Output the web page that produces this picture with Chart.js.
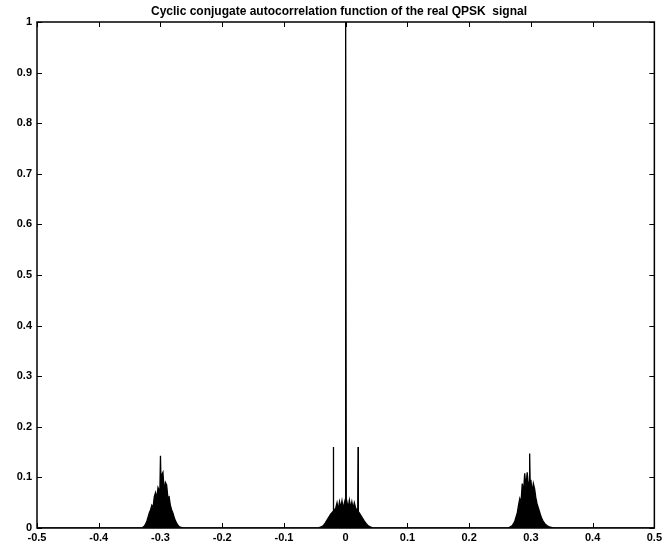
<!DOCTYPE html>
<html>
<head>
<meta charset="utf-8">
<script src="https://cdn.jsdelivr.net/npm/chart.js@4.4.1/dist/chart.umd.min.js"></script>
<style>
    html, body { margin: 0; padding: 0; background: #ffffff; }
    #wrap { width: 665px; height: 554px; }
</style>
</head>
<body>
<div id="wrap"><canvas id="cyclicChart"></canvas></div>
<script>
// cycle frequency (alpha) and normalised magnitude around each feature
var leftFreq = [-0.330, -0.328, -0.326, -0.324, -0.322, -0.320, -0.318, -0.316, -0.314, -0.312, -0.310, -0.308, -0.306, -0.304, -0.302, -0.301, -0.300, -0.299, -0.298, -0.296, -0.294, -0.292, -0.290, -0.288, -0.286, -0.284, -0.282, -0.280, -0.278, -0.276, -0.274, -0.272, -0.270, -0.266, -0.262];
var leftAmp = [0, 0.002, 0.004, 0.008, 0.014, 0.022, 0.030, 0.036, 0.045, 0.040, 0.062, 0.070, 0.058, 0.080, 0.074, 0.070, 0.143, 0.080, 0.105, 0.110, 0.072, 0.090, 0.085, 0.060, 0.062, 0.045, 0.036, 0.030, 0.022, 0.015, 0.010, 0.006, 0.003, 0.001, 0];

var centerFreq = [-0.045, -0.040, -0.036, -0.033, -0.030, -0.027, -0.024, -0.021, -0.0205, -0.020, -0.0195, -0.018, -0.016, -0.014, -0.012, -0.010, -0.008, -0.006, -0.004, -0.002, -0.001, 0, 0.001, 0.002, 0.004, 0.006, 0.008, 0.010, 0.012, 0.014, 0.016, 0.018, 0.0195, 0.020, 0.0205, 0.022, 0.024, 0.027, 0.030, 0.033, 0.036, 0.040, 0.045];
var centerAmp = [0, 0.002, 0.005, 0.010, 0.016, 0.022, 0.028, 0.032, 0.030, 0.160, 0.030, 0.036, 0.040, 0.050, 0.036, 0.052, 0.040, 0.054, 0.038, 0.050, 0.035, 1.0, 0.035, 0.052, 0.040, 0.055, 0.040, 0.052, 0.038, 0.050, 0.040, 0.036, 0.032, 0.160, 0.032, 0.030, 0.026, 0.020, 0.014, 0.009, 0.005, 0.002, 0];

var rightFreq = [0.262, 0.266, 0.270, 0.272, 0.274, 0.276, 0.278, 0.280, 0.282, 0.284, 0.286, 0.288, 0.290, 0.292, 0.294, 0.296, 0.297, 0.298, 0.299, 0.300, 0.302, 0.304, 0.306, 0.308, 0.310, 0.312, 0.314, 0.316, 0.318, 0.320, 0.323, 0.326, 0.330, 0.336];
var rightAmp = [0, 0.002, 0.005, 0.009, 0.014, 0.022, 0.030, 0.045, 0.058, 0.050, 0.088, 0.070, 0.108, 0.080, 0.110, 0.085, 0.090, 0.147, 0.080, 0.095, 0.070, 0.088, 0.078, 0.060, 0.048, 0.040, 0.032, 0.024, 0.018, 0.013, 0.008, 0.005, 0.002, 0];

var xTicks = [-0.5, -0.4, -0.3, -0.2, -0.1, 0, 0.1, 0.2, 0.3, 0.4, 0.5];
var yTicks = [0, 0.1, 0.2, 0.3, 0.4, 0.5, 0.6, 0.7, 0.8, 0.9, 1];

var titleText = 'Cyclic conjugate autocorrelation function of the real QPSK  signal';

// stitch the three features together along a zero baseline
var points = [{ x: -0.5, y: 0 }];
[[leftFreq, leftAmp], [centerFreq, centerAmp], [rightFreq, rightAmp]].forEach(pair => {
    pair[0].forEach((f, i) => points.push({ x: f, y: pair[1][i] }));
});
points.push({ x: 0.5, y: 0 });

function tickText(v) {
    var s = Math.abs(v) < 1e-9 ? '0' : (Math.abs(v - 1) < 1e-9 ? '1' : v.toFixed(1));
    return s;
}

// matlab style box with inward ticks on all four sides, plus the title
const boxPlugin = {
    id: 'boxPlugin',
    afterDraw(chart) {
        const ctx = chart.ctx;
        const a = chart.chartArea;
        const xs = chart.scales.x;
        const ys = chart.scales.y;
        const len = 5;
        ctx.save();
        ctx.strokeStyle = '#000000';
        ctx.lineWidth = 1.5;
        ctx.strokeRect(a.left, a.top, a.right - a.left, a.bottom - a.top);
        ctx.lineWidth = 1;
        ctx.beginPath();
        xTicks.forEach(v => {
            const px = Math.round(xs.getPixelForValue(v)) + 0.5;
            ctx.moveTo(px, a.bottom); ctx.lineTo(px, a.bottom - len);
            ctx.moveTo(px, a.top); ctx.lineTo(px, a.top + len);
        });
        yTicks.forEach(v => {
            const py = Math.round(ys.getPixelForValue(v)) + 0.5;
            ctx.moveTo(a.left, py); ctx.lineTo(a.left + len, py);
            ctx.moveTo(a.right, py); ctx.lineTo(a.right - len, py);
        });
        ctx.stroke();

        ctx.fillStyle = '#000000';
        ctx.font = 'bold 12px "Liberation Sans", Arial, sans-serif';
        ctx.textAlign = 'center';
        ctx.textBaseline = 'alphabetic';
        ctx.fillText(titleText, 339, 15);
        ctx.restore();
    }
};

var ctx = document.getElementById('cyclicChart').getContext('2d');
var cyclicChart = new Chart(ctx, {
    type: 'line',
    data: {
        datasets: [{
            data: points,
            borderColor: '#000000',
            backgroundColor: '#000000',
            borderWidth: 1.3,
            pointRadius: 0,
            tension: 0,
            fill: 'origin'
        }]
    },
    options: {
        responsive: true,
        maintainAspectRatio: false,
        animation: false,
        devicePixelRatio: 1,
        layout: {
            padding: { top: 22, left: 0, right: 8, bottom: 0 }
        },
        plugins: {
            legend: { display: false },
            title: { display: false },
            tooltip: { enabled: false }
        },
        scales: {
            x: {
                type: 'linear',
                min: -0.5,
                max: 0.5,
                afterBuildTicks: scale => { scale.ticks = xTicks.map(v => ({ value: v })); },
                afterFit: scale => { scale.height = 26; },
                grid: { display: false, drawTicks: false },
                border: { display: false },
                ticks: {
                    color: '#000000',
                    padding: 3,
                    maxRotation: 0,
                    autoSkip: false,
                    font: { family: '"Liberation Sans", Arial, sans-serif', size: 11, weight: 'bold' },
                    callback: v => tickText(v)
                }
            },
            y: {
                type: 'linear',
                min: 0,
                max: 1,
                afterBuildTicks: scale => { scale.ticks = yTicks.map(v => ({ value: v })); },
                afterFit: scale => { scale.width = 37; },
                grid: { display: false, drawTicks: false },
                border: { display: false },
                ticks: {
                    color: '#000000',
                    padding: 5,
                    autoSkip: false,
                    font: { family: '"Liberation Sans", Arial, sans-serif', size: 11, weight: 'bold' },
                    callback: v => tickText(v)
                }
            }
        }
    },
    plugins: [boxPlugin]
});
</script>
</body>
</html>
